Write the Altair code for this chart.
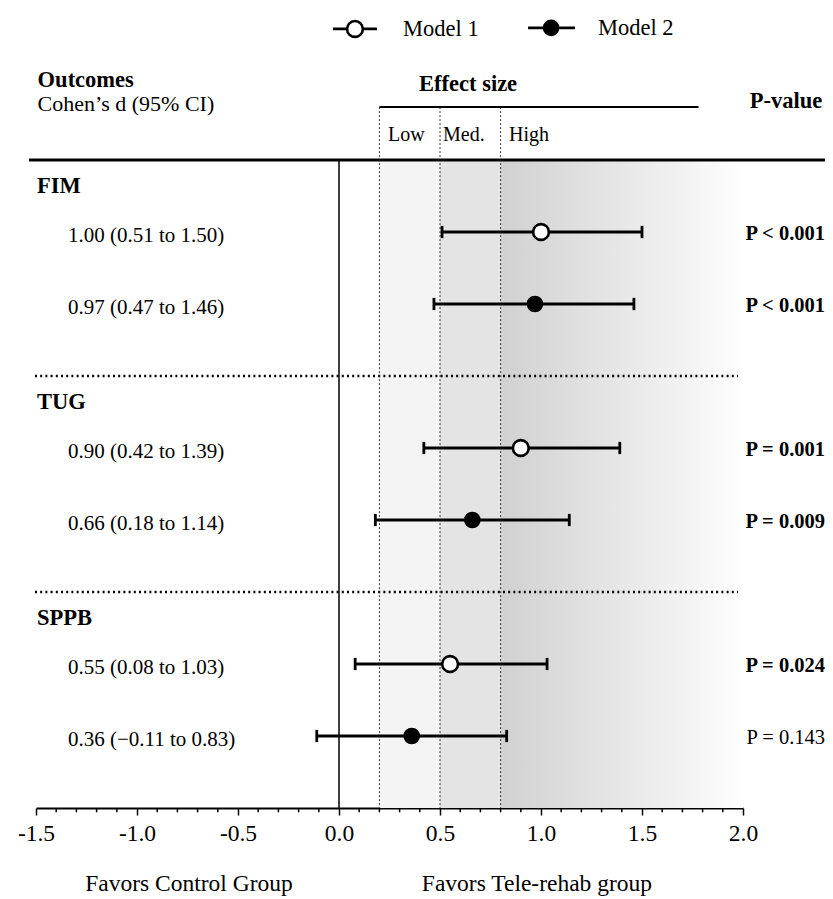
import altair as alt
import pandas as pd

# ---------------- data ----------------
outcomes = ["FIM", "TUG", "SPPB"]
models = ["Model 1", "Model 2"]
d_values = [1.00, 0.97, 0.90, 0.66, 0.55, 0.36]
ci_low = [0.51, 0.47, 0.42, 0.18, 0.08, -0.11]
ci_high = [1.50, 1.46, 1.39, 1.14, 1.03, 0.83]
p_labels = ["P < 0.001", "P < 0.001", "P = 0.001", "P = 0.009", "P = 0.024", "P = 0.143"]
p_bold = [True, True, True, True, True, False]
x_ticks = [-1.5, -1.0, -0.5, 0.0, 0.5, 1.0, 1.5, 2.0]
minor_ticks = [round(-1.5 + 0.1 * i, 1) for i in range(36) if i % 5 != 0]
effect_bounds = [0.2, 0.5, 0.8, 2.0]
effect_labels = ["Low", "Med.", "High"]
band_colors = ["#f4f4f4", "#e4e4e4"]

# ---------------- layout (row units) ----------------
FONT = "Liberation Serif"
row_y = [2, 4, 8, 10, 14, 16]
header_y = [0.72, 6.72, 12.72]
sep_y = [6, 12]
Y_TOP, Y_BOT = -4.2222, 18
XS = alt.Scale(domain=[-1.5, 2.0], nice=False, zero=False)
YS = alt.Scale(domain=[Y_TOP, Y_BOT], nice=False, zero=False, reverse=True)
XAXIS = alt.Axis(values=x_ticks, labelExpr="replace(format(datum.value, '.1f'), '\u2212', '-')",
                 labelFont=FONT, labelFontSize=23.5, labelColor="black", labelPadding=6,
                 tickSize=7, tickWidth=1.5, tickColor="black", domainColor="black",
                 domainWidth=1.8, grid=False, title=None, labelFlush=False)


def X(f):
    return alt.X(f, type="quantitative", scale=XS, axis=XAXIS)


def Y(f):
    return alt.Y(f, type="quantitative", scale=YS, axis=None)


# ---------------- tables ----------------
def fmt(v):
    s = f"{v:.2f}"
    return s.replace("-", "\u2212")


df = pd.DataFrame({
    "outcome": [o for o in outcomes for _ in models],
    "model": models * len(outcomes),
    "d": d_values, "lo": ci_low, "hi": ci_high,
    "p": p_labels, "bold": p_bold, "row": row_y,
})
df["label"] = [f"{fmt(d)} ({fmt(l)} to {fmt(h)})" for d, l, h in zip(d_values, ci_low, ci_high)]

bands = pd.DataFrame({"x0": effect_bounds[:2], "x1": effect_bounds[1:3], "c": band_colors,
                      "y0": [0, 0], "y1": [Y_BOT, Y_BOT]})
grad_df = pd.DataFrame({"x0": [effect_bounds[2]], "x1": [effect_bounds[3]], "y0": [0], "y1": [Y_BOT]})

band_layer = alt.Chart(bands).mark_rect().encode(
    x=X("x0"), x2="x1", y=Y("y0"), y2="y1",
    color=alt.Color("c:N", scale=None))
grad_layer = alt.Chart(grad_df).mark_rect(
    fill=alt.LinearGradient(gradient="linear", x1=0, x2=1, y1=0, y2=0,
                            stops=[alt.GradientStop(color="#d1d1d1", offset=0),
                                   alt.GradientStop(color="#e3e3e3", offset=0.4),
                                   alt.GradientStop(color="#f2f2f2", offset=0.75),
                                   alt.GradientStop(color="#ffffff", offset=1)])
).encode(x=X("x0"), x2="x1", y=Y("y0"), y2="y1")

# vertical dotted effect-size boundaries
vlines = pd.DataFrame({"x": effect_bounds[:3], "y0": [-1.47] * 3, "y1": [Y_BOT] * 3})
vline_layer = alt.Chart(vlines).mark_rule(color="#333333", strokeWidth=1, strokeDash=[2, 2]).encode(
    x=X("x"), y=Y("y0"), y2="y1")

# zero line
zero_df = pd.DataFrame({"x": [0.0], "y0": [0], "y1": [Y_BOT]})
zero_layer = alt.Chart(zero_df).mark_rule(color="black", strokeWidth=1.5).encode(
    x=X("x"), y=Y("y0"), y2="y1")

# heading rule and effect-size rule
hrules = pd.DataFrame({"x0": [-1.535, 0.2], "x1": [2.45, 1.78], "y": [0, -1.47], "w": [3.2, 2.0]})
hrule_layer = alt.Chart(hrules).mark_rule(color="black").encode(
    x=X("x0"), x2="x1", y=Y("y"), strokeWidth=alt.StrokeWidth("w:Q", scale=None))

# dotted separators
seps = pd.DataFrame({"x0": [-1.505] * 2, "x1": [1.975] * 2, "y": sep_y})
sep_layer = alt.Chart(seps).mark_rule(color="black", strokeWidth=2.5, strokeDash=[2, 3.2]).encode(
    x=X("x0"), x2="x1", y=Y("y"))

# minor ticks
minor_df = pd.DataFrame({"x": minor_ticks, "y0": [Y_BOT] * len(minor_ticks), "y1": [Y_BOT + 0.12] * len(minor_ticks)})
minor_layer = alt.Chart(minor_df).mark_rule(color="black", strokeWidth=1.5).encode(
    x=X("x"), y=Y("y0"), y2="y1")

# error bars
base = alt.Chart(df)
ci_layer = base.mark_rule(color="black", strokeWidth=2.8).encode(x=X("lo"), x2="hi", y=Y("row"))
caps = base.transform_calculate(ct="datum.row - 0.17", cb="datum.row + 0.17")
cap_lo = caps.mark_rule(color="black", strokeWidth=2.8).encode(x=X("lo"), y=Y("ct"), y2="cb")
cap_hi = caps.mark_rule(color="black", strokeWidth=2.8).encode(x=X("hi"), y=Y("ct"), y2="cb")
pt_color = alt.Color("model:N", scale=alt.Scale(domain=models, range=["white", "black"]), legend=None)
pts_open = base.transform_filter(alt.datum.model == "Model 1").mark_point(
    shape="circle", filled=True, size=250, stroke="black", strokeWidth=2.6, opacity=1
).encode(x=X("d"), y=Y("row"), fill=pt_color)
pts_fill = base.transform_filter(alt.datum.model == "Model 2").mark_point(
    shape="circle", filled=True, size=215, stroke="black", strokeWidth=2, opacity=1
).encode(x=X("d"), y=Y("row"), fill=pt_color)

# row labels and p-values
P_X = 2.406
lab_layer = base.transform_calculate(lx="-1.342").mark_text(
    font=FONT, fontSize=21, align="left", baseline="middle", dy=4, color="black"
).encode(x=X("lx"), y=Y("row"), text="label:N")
p_bold_layer = base.transform_filter("datum.bold").transform_calculate(px=str(P_X)).mark_text(
    font=FONT, fontSize=20.5, fontWeight="bold", align="right", baseline="middle", dy=2, color="black"
).encode(x=X("px"), y=Y("row"), text="p:N")
p_reg_layer = base.transform_filter("!datum.bold").transform_calculate(px=str(P_X)).mark_text(
    font=FONT, fontSize=20.5, align="right", baseline="middle", dy=2, color="black"
).encode(x=X("px"), y=Y("row"), text="p:N")

# outcome headers
hdr = pd.DataFrame({"t": outcomes, "x": [-1.495] * 3, "y": header_y})
hdr_layer = alt.Chart(hdr).mark_text(font=FONT, fontSize=22.5, fontWeight="bold", align="left",
                                     baseline="middle", color="black").encode(
    x=X("x"), y=Y("y"), text="t:N")

# column headings
heads = pd.DataFrame({
    "t": ["Outcomes", "Effect size", "P-value"],
    "x": [-1.492, 0.639, 2.392], "y": [-2.22, -2.1, -1.63],
    "a": ["left", "center", "right"]})
head_layers = [
    alt.Chart(heads.iloc[[i]]).mark_text(font=FONT, fontSize=22.5, fontWeight="bold",
                                         align=heads["a"][i], baseline="middle", color="black").encode(
        x=X("x"), y=Y("y"), text="t:N")
    for i in range(3)
]
sub = pd.DataFrame({"t": ["Cohen\u2019s d (95% CI)"], "x": [-1.492], "y": [-1.56]})
sub_layer = alt.Chart(sub).mark_text(font=FONT, fontSize=22, align="left", baseline="middle",
                                     color="black").encode(x=X("x"), y=Y("y"), text="t:N")
eff = pd.DataFrame({"t": effect_labels, "x": [0.243, 0.515, 0.842], "y": [-0.7] * 3})
eff_layer = alt.Chart(eff).mark_text(font=FONT, fontSize=20, align="left", baseline="middle",
                                     color="black").encode(x=X("x"), y=Y("y"), text="t:N")

# favors labels
fav = pd.DataFrame({"t": ["Favors Control Group", "Favors Tele-rehab group"],
                    "x": [-0.743, 0.98], "y": [20.1, 20.1]})
fav_layer = alt.Chart(fav).mark_text(font=FONT, fontSize=23.5, align="center", baseline="middle",
                                     color="black").encode(x=X("x"), y=Y("y"), text="t:N")

# legend
leg = pd.DataFrame({"model": models, "xc": [0.079, 1.050], "xl0": [-0.030, 0.936],
                    "xl1": [0.188, 1.168], "xt": [0.317, 1.282], "y": [-3.64, -3.67]})
leg_base = alt.Chart(leg)
leg_line = leg_base.mark_rule(color="black", strokeWidth=2.8).encode(x=X("xl0"), x2="xl1", y=Y("y"))
leg_open = leg_base.transform_filter(alt.datum.model == "Model 1").mark_point(
    shape="circle", filled=True, size=250, stroke="black", strokeWidth=2.6, opacity=1
).encode(x=X("xc"), y=Y("y"), fill=pt_color)
leg_fill = leg_base.transform_filter(alt.datum.model == "Model 2").mark_point(
    shape="circle", filled=True, size=215, stroke="black", strokeWidth=2, opacity=1
).encode(x=X("xc"), y=Y("y"), fill=pt_color)
leg_text = leg_base.mark_text(font=FONT, fontSize=22.5, align="left", baseline="middle",
                              color="black").encode(x=X("xt"), y=Y("y"), text="model:N")

chart = alt.layer(
    band_layer, grad_layer, vline_layer, zero_layer, hrule_layer, sep_layer, minor_layer,
    ci_layer, cap_lo, cap_hi, pts_open, pts_fill,
    lab_layer, p_bold_layer, p_reg_layer, hdr_layer, *head_layers, sub_layer, eff_layer,
    fav_layer, leg_line, leg_open, leg_fill, leg_text,
).properties(
    width=707, height=800,
    autosize=alt.AutoSizeParams(type="none"),
    padding={"left": 28, "top": 0, "right": 82, "bottom": 90},
    background="white",
).configure_view(strokeWidth=0)

chart.save("out.html", embed_options={"renderer": "svg", "actions": False})
